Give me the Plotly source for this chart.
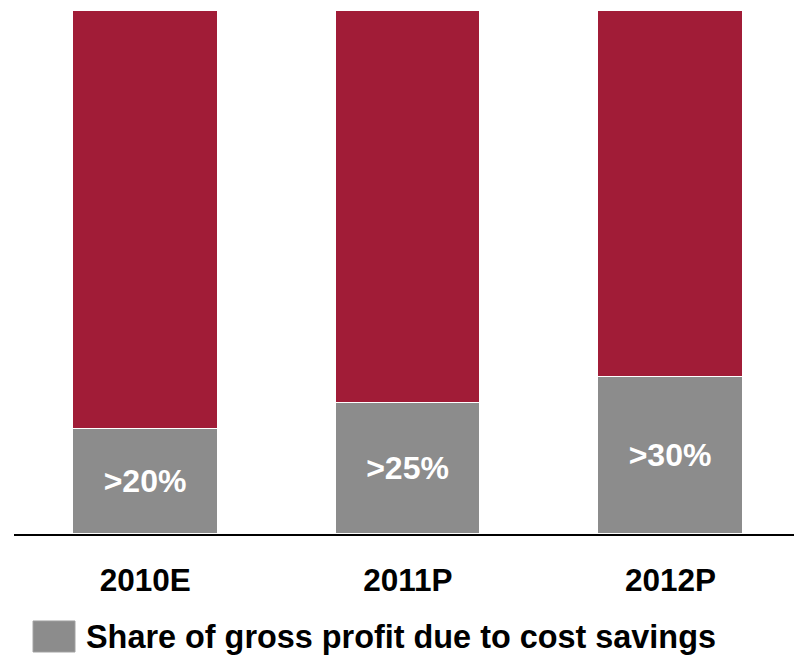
import plotly.graph_objects as go

# Data
years = ["2010E", "2011P", "2012P"]
savings_share = [20, 25, 30]  # % of gross profit due to cost savings
remainder = [100 - v for v in savings_share]
labels = [f">{v}%" for v in savings_share]

GRAY = "#8c8c8c"
RED = "#a11c37"
FONT = "Liberation Sans, Arial, sans-serif"

fig = go.Figure()

fig.add_trace(go.Bar(
    x=years, y=savings_share, width=0.55,
    marker=dict(color=GRAY, line=dict(color="white", width=1)),
    text=labels, textposition="inside", insidetextanchor="middle",
    textfont=dict(family=FONT, size=32, color="white", weight="bold"),
    constraintext="none",
    showlegend=False,
))
fig.add_trace(go.Bar(
    x=years, y=remainder, width=0.55,
    marker=dict(color=RED, line=dict(color="white", width=1)),
    showlegend=False,
))

# Legend drawn as a swatch + caption below the axis
fig.add_shape(type="rect", xref="paper", yref="paper",
              x0=0.0244, x1=0.0782, y0=-0.2256, y1=-0.1663,
              fillcolor=GRAY, line=dict(color="#a0a0a0", width=1))
fig.add_annotation(xref="paper", yref="paper", x=0.0897, y=-0.197,
                   xanchor="left", yanchor="middle", showarrow=False,
                   text="Share of gross profit due to cost savings",
                   font=dict(family=FONT, size=32.4, color="black", weight="bold"))

fig.update_layout(
    barmode="stack",
    width=794, height=655,
    margin=dict(l=14, r=0, t=11, b=121),
    paper_bgcolor="white", plot_bgcolor="white",
    bargap=0,
    uniformtext=dict(mode=False),
)
fig.update_xaxes(
    range=[-0.5, 2.47], showline=True, linecolor="black", linewidth=2,
    showgrid=False, zeroline=False, ticks="", ticklabelstandoff=17,
    tickfont=dict(family=FONT, size=31.5, color="black", weight="bold"),
)
fig.update_yaxes(range=[0, 100], visible=False)

fig.write_html("out.html")
